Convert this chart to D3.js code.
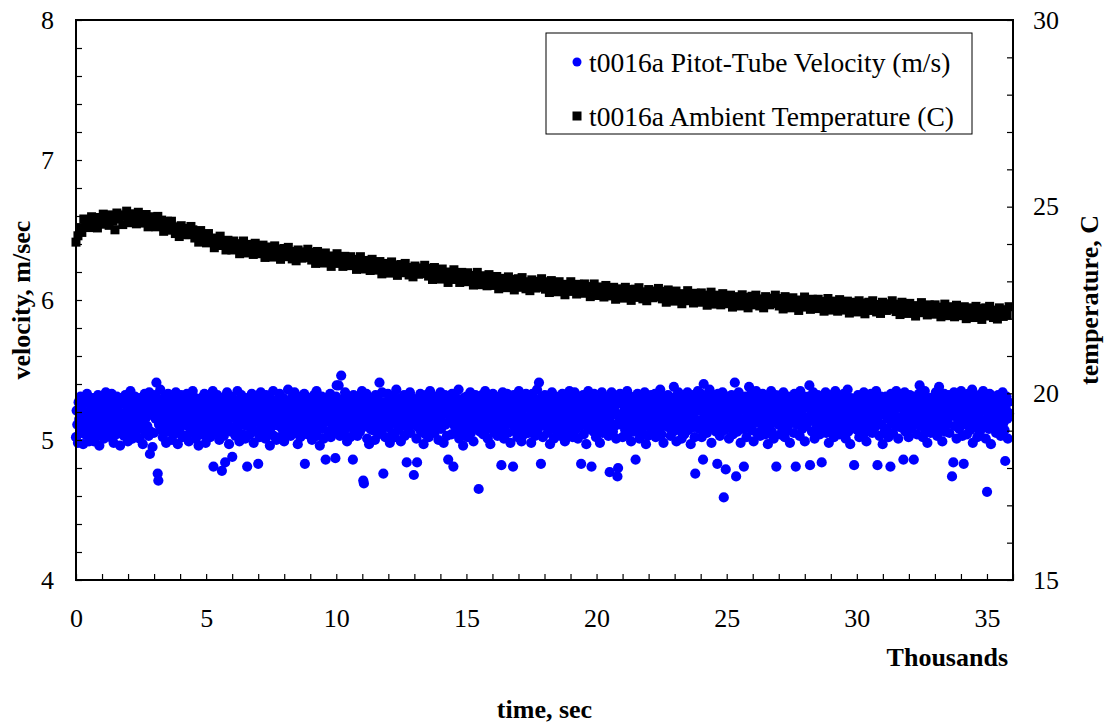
<!DOCTYPE html>
<html lang="en">
<head>
    <meta charset="UTF-8">
    <title>t0016a velocity and temperature</title>
    <script src="https://d3js.org/d3.v7.min.js"></script>
    <style>
        body { margin: 0; background: #fff; }
        svg text { font-family: "Liberation Serif", "Times New Roman", serif; fill: #000; }
        .title { font-weight: bold; font-size: 26px; }
    </style>
</head>
<body>
<div id="chart"></div>
<script>
    // time axis (thousands of seconds) and tick labels
    const timeEnd = 35.85;
    const xTickLabels = [0, 5, 10, 15, 20, 25, 30, 35];
    const velTickLabels = [4, 5, 6, 7, 8];
    const tempTickLabels = [15, 20, 25, 30];
    const seriesNames = ["t0016a Pitot-Tube Velocity (m/s)", "t0016a Ambient Temperature (C)"];

    const velocity = [
        5.02, 5.21, 5.11, 4.98, 5.27, 5.15, 5.05, 5.31, 5.19, 5.08, 5.25, 4.97, 5.13, 5.29, 5.04, 5.20, 5.11, 5.33, 5.07, 5.17, 4.99, 5.26, 5.14, 5.02,
        5.24, 5.09, 5.30, 5.16, 4.99, 5.21, 5.06, 5.27, 5.12, 5.03, 5.32, 5.18, 4.96, 5.23, 5.10, 5.29, 5.05, 5.15, 5.26, 5.01, 5.20, 5.11, 5.34, 5.08,
        5.18, 5.06, 5.29, 5.12, 5.24, 5.02, 5.21, 5.33, 5.09, 5.15, 4.98, 5.27, 5.11, 5.22, 5.04, 5.31, 5.17, 5.08, 5.25, 5.13, 4.96, 5.30, 5.19, 5.07,
        5.10, 5.26, 5.03, 5.19, 5.32, 5.14, 5.07, 5.23, 4.99, 5.28, 5.16, 5.05, 5.35, 5.12, 5.20, 5.01, 5.27, 5.09, 5.17, 5.31, 5.04, 5.22, 5.13, 5.26,
        5.24, 5.13, 5.01, 5.30, 5.17, 5.08, 5.26, 4.97, 5.20, 5.11, 5.33, 5.05, 5.16, 5.28, 5.10, 5.22, 5.03, 5.34, 4.90, 5.06, 5.25, 5.18, 4.95, 5.29,
        5.05, 5.21, 5.32, 5.15, 5.41, 5.27, 4.76, 4.71, 5.11, 5.19, 5.36, 5.07, 5.23, 5.14, 5.02, 5.30, 5.17, 5.09, 5.25, 4.98, 5.20, 5.12, 5.33, 5.06,
        5.14, 5.28, 5.08, 5.22, 5.00, 5.31, 5.17, 5.04, 5.25, 5.12, 5.34, 5.09, 5.19, 4.97, 5.27, 5.15, 5.06, 5.23, 5.32, 5.11, 5.02, 5.20, 5.29, 5.13,
        5.26, 5.03, 5.18, 5.33, 5.10, 5.22, 4.99, 5.29, 5.14, 5.07, 5.24, 5.16, 5.35, 5.05, 5.21, 5.12, 5.30, 5.01, 5.19, 5.27, 5.09, 4.96, 5.23, 5.15,
        5.08, 5.30, 5.20, 5.04, 5.25, 5.13, 5.33, 5.10, 4.98, 5.22, 5.17, 5.28, 5.06, 5.15, 5.31, 5.02, 5.24, 5.11, 5.19, 5.35, 4.81, 5.26, 5.14, 5.05,
        5.21, 5.12, 5.32, 5.07, 5.27, 5.00, 5.18, 5.24, 5.10, 4.78, 5.30, 5.15, 5.03, 5.26, 4.84, 5.20, 5.09, 5.34, 5.13, 5.22, 4.97, 5.29, 5.16, 5.06,
        5.31, 4.88, 5.17, 5.25, 5.09, 5.22, 5.03, 5.28, 5.14, 5.35, 5.06, 5.19, 4.99, 5.24, 5.11, 5.32, 5.16, 5.04, 5.27, 5.13, 5.21, 5.01, 5.30, 5.10,
        4.81, 5.20, 5.29, 5.12, 5.04, 5.26, 5.17, 5.33, 5.08, 5.23, 4.98, 5.15, 5.31, 5.06, 5.21, 5.13, 5.27, 4.83, 5.18, 5.02, 5.25, 5.34, 5.11, 5.22,
        5.07, 5.29, 5.16, 5.23, 5.01, 5.32, 5.12, 5.19, 5.05, 5.26, 5.14, 4.96, 5.30, 5.09, 5.22, 5.17, 5.35, 5.03, 5.24, 5.11, 5.28, 5.00, 5.18, 5.13,
        5.25, 5.10, 5.33, 5.02, 5.19, 5.27, 5.08, 5.15, 5.30, 4.99, 5.22, 5.12, 5.05, 5.28, 5.17, 5.36, 5.09, 5.21, 5.14, 5.03, 5.26, 5.18, 5.31, 5.06,
        5.16, 5.34, 5.05, 5.22, 5.11, 5.29, 4.97, 5.20, 5.13, 5.26, 5.02, 5.31, 5.18, 5.08, 5.24, 5.15, 5.33, 4.83, 5.27, 5.10, 5.19, 5.04, 5.23, 5.30,
        5.09, 5.21, 5.28, 5.14, 5.00, 5.25, 5.17, 5.32, 5.06, 5.23, 5.11, 5.35, 5.03, 5.19, 5.29, 5.12, 4.96, 5.26, 5.15, 5.31, 5.08, 5.22, 5.01, 5.18,
        5.27, 4.86, 5.13, 5.30, 5.20, 5.06, 5.24, 5.16, 5.33, 5.02, 5.19, 5.11, 5.28, 5.05, 5.22, 5.14, 4.87, 5.31, 5.39, 5.09, 5.25, 5.39, 5.17, 5.03,
        5.21, 5.46, 5.12, 5.29, 5.04, 5.23, 5.15, 5.34, 5.08, 5.26, 4.99, 5.18, 5.31, 5.10, 5.20, 5.02, 5.27, 5.13, 5.24, 4.86, 5.32, 5.07, 5.19, 5.28,
        5.11, 5.25, 5.03, 5.31, 5.17, 5.22, 5.06, 5.29, 5.14, 5.35, 5.09, 4.71, 4.69, 5.20, 5.27, 5.12, 5.33, 5.01, 5.23, 5.16, 4.97, 5.30, 5.08, 5.19,
        5.30, 5.07, 5.21, 5.14, 5.26, 5.00, 5.32, 5.18, 5.10, 5.24, 5.04, 5.28, 5.41, 5.15, 5.22, 5.06, 5.34, 5.12, 4.76, 5.27, 5.19, 5.02, 5.25, 5.11,
        5.16, 5.33, 5.09, 5.23, 4.98, 5.28, 5.13, 5.20, 5.05, 5.31, 5.17, 5.25, 5.02, 5.22, 5.36, 5.11, 5.27, 5.07, 5.19, 5.14, 5.30, 4.99, 5.24, 5.10,
        5.26, 5.12, 5.32, 5.03, 5.20, 5.15, 4.84, 5.29, 5.08, 5.23, 5.17, 5.34, 5.05, 5.25, 5.11, 5.30, 5.19, 4.75, 5.21, 5.14, 5.28, 5.01, 4.84, 5.24,
        5.09, 5.27, 5.18, 5.33, 5.06, 5.22, 5.13, 5.30, 4.97, 5.25, 5.15, 5.04, 5.32, 5.19, 5.10, 5.26, 5.02, 5.21, 5.35, 5.12, 5.24, 5.07, 5.29, 5.16,
        5.20, 5.05, 5.31, 5.14, 5.26, 5.10, 5.23, 5.00, 5.28, 5.17, 5.34, 5.08, 5.21, 5.13, 5.27, 4.98, 5.19, 5.32, 5.11, 5.25, 5.03, 5.30, 4.86, 5.18,
        5.29, 5.13, 5.22, 5.04, 5.33, 5.17, 4.81, 5.25, 5.10, 5.31, 5.19, 5.07, 5.27, 5.15, 5.36, 5.01, 5.23, 5.12, 5.28, 5.06, 5.20, 4.96, 5.30, 5.14,
        5.08, 5.24, 5.31, 5.16, 5.02, 5.27, 5.19, 5.11, 5.34, 5.05, 5.22, 5.29, 5.13, 4.99, 5.26, 5.18, 5.32, 5.09, 5.23, 5.15, 5.30, 4.65, 5.21, 5.06,
        5.25, 5.10, 5.32, 5.19, 5.04, 5.28, 5.14, 5.35, 5.07, 5.22, 5.16, 5.01, 5.30, 5.12, 5.24, 4.97, 5.20, 5.27, 5.09, 5.33, 5.17, 5.05, 5.26, 5.13,
        5.18, 5.29, 5.03, 5.23, 5.12, 5.31, 5.07, 5.26, 4.82, 5.20, 5.34, 5.15, 5.01, 5.28, 5.10, 5.22, 5.17, 5.33, 5.05, 5.25, 5.14, 5.30, 4.98, 5.21,
        5.27, 5.11, 4.81, 5.32, 5.19, 5.06, 5.24, 5.14, 5.29, 5.02, 5.21, 5.35, 5.09, 5.17, 5.26, 4.99, 5.31, 5.13, 5.22, 5.04, 5.28, 5.16, 5.33, 5.08,
        5.15, 5.30, 5.05, 5.23, 5.12, 5.27, 4.98, 5.20, 5.33, 5.09, 5.25, 5.17, 5.03, 5.29, 5.14, 5.36, 5.07, 5.22, 5.41, 5.11, 5.26, 4.83, 5.19, 5.31,
        5.02, 5.24, 5.16, 5.32, 5.10, 5.27, 5.19, 5.05, 5.30, 5.13, 5.22, 4.97, 5.28, 5.15, 5.34, 5.08, 5.21, 5.01, 5.25, 5.11, 5.31, 5.18, 5.06, 5.23,
        5.29, 5.12, 5.20, 5.03, 5.26, 5.15, 5.33, 5.08, 5.23, 5.17, 4.99, 5.30, 5.11, 5.24, 5.05, 5.27, 5.19, 5.35, 5.09, 5.21, 5.14, 5.32, 5.02, 5.25,
        5.17, 5.34, 5.07, 5.22, 5.13, 5.28, 5.01, 5.25, 5.18, 5.31, 5.10, 4.83, 5.26, 5.15, 5.32, 5.04, 5.21, 5.12, 5.29, 4.97, 5.23, 5.16, 5.35, 5.08,
        5.22, 5.10, 5.30, 4.81, 5.19, 5.26, 5.06, 5.33, 5.14, 5.24, 5.02, 5.28, 5.17, 5.09, 5.31, 5.20, 4.98, 5.25, 5.12, 5.34, 5.05, 5.27, 5.16, 5.21,
        5.31, 5.08, 5.24, 5.15, 5.29, 5.03, 5.20, 4.77, 5.27, 5.12, 5.34, 5.18, 5.06, 5.23, 5.30, 5.10, 5.25, 5.01, 5.19, 4.74, 4.80, 5.28, 5.14, 5.33,
        5.11, 5.26, 5.18, 5.02, 5.32, 5.14, 5.23, 5.07, 5.29, 5.16, 5.35, 5.04, 5.21, 5.27, 5.09, 5.31, 4.99, 5.19, 5.13, 5.25, 5.06, 5.30, 5.17, 4.86,
        5.28, 5.15, 5.33, 5.08, 5.22, 5.01, 5.26, 5.12, 5.19, 5.31, 5.05, 5.24, 5.17, 5.34, 5.10, 4.97, 5.28, 5.20, 5.03, 5.29, 5.14, 5.23, 5.09, 5.32,
        5.18, 5.05, 5.27, 5.21, 5.11, 5.33, 5.02, 5.24, 5.16, 5.30, 5.08, 5.26, 5.13, 5.36, 5.19, 5.04, 5.22, 5.29, 4.98, 5.15, 5.31, 5.10, 5.25, 5.17,
        5.24, 5.32, 5.09, 5.17, 5.29, 5.03, 5.21, 5.14, 5.27, 5.06, 5.38, 5.19, 5.11, 5.31, 4.99, 5.25, 5.16, 5.34, 5.07, 5.22, 5.13, 5.28, 5.01, 5.20,
        5.15, 5.27, 5.04, 5.31, 5.19, 5.10, 5.25, 5.34, 5.07, 5.22, 5.13, 5.29, 4.97, 5.18, 5.32, 5.09, 5.26, 5.16, 5.02, 4.76, 5.23, 5.30, 5.12, 5.35,
        5.21, 5.08, 5.29, 5.14, 5.33, 5.02, 5.24, 4.86, 5.40, 5.17, 5.27, 5.11, 5.31, 5.05, 5.20, 5.28, 5.13, 5.36, 5.09, 5.23, 4.98, 5.26, 5.16, 5.32,
        5.12, 5.30, 5.19, 5.06, 5.25, 4.83, 5.33, 5.15, 5.22, 5.03, 5.28, 5.17, 5.10, 5.34, 5.24, 4.59, 5.07, 5.29, 4.79, 5.18, 5.31, 5.13, 5.26, 5.01,
        5.20, 5.27, 5.09, 5.32, 5.16, 5.04, 5.23, 5.13, 5.41, 5.29, 4.74, 5.19, 5.06, 5.25, 5.34, 5.11, 5.21, 4.98, 5.30, 5.15, 5.26, 5.08, 4.81, 5.22,
        5.31, 5.14, 5.02, 5.24, 5.18, 5.28, 5.38, 5.10, 5.21, 5.33, 5.07, 5.26, 5.16, 4.99, 5.29, 5.12, 5.23, 5.35, 5.05, 5.19, 5.30, 5.13, 5.25, 5.03,
        5.17, 5.26, 5.08, 5.33, 5.21, 5.12, 5.29, 5.04, 5.24, 5.15, 5.31, 4.97, 5.22, 5.10, 5.27, 5.19, 5.35, 5.06, 5.28, 5.14, 5.01, 5.25, 5.18, 5.32,
        4.81, 5.23, 5.30, 5.11, 5.27, 5.16, 5.04, 5.32, 5.20, 5.09, 5.25, 5.34, 5.13, 5.02, 5.28, 5.18, 5.22, 5.07, 5.31, 5.15, 5.26, 4.98, 5.21, 5.12,
        5.29, 5.14, 5.22, 5.05, 5.33, 5.19, 4.81, 5.26, 5.11, 5.30, 5.17, 5.24, 5.03, 5.35, 5.13, 5.21, 5.08, 5.28, 5.16, 5.31, 4.99, 5.23, 5.10, 5.27,
        5.12, 5.25, 5.31, 5.39, 4.82, 5.18, 5.27, 5.06, 5.22, 5.34, 5.14, 5.01, 5.29, 5.17, 5.09, 5.24, 5.32, 5.11, 5.20, 5.04, 5.26, 5.15, 4.84, 5.30,
        5.23, 5.10, 5.28, 5.16, 5.34, 5.05, 5.21, 5.30, 5.13, 4.98, 5.26, 5.18, 5.08, 5.32, 5.24, 5.11, 5.29, 5.02, 5.19, 5.35, 5.14, 5.27, 5.07, 5.22,
        5.31, 5.17, 5.04, 5.25, 5.12, 5.29, 5.20, 5.09, 5.33, 5.15, 5.23, 5.01, 5.27, 5.18, 5.36, 5.06, 5.21, 5.13, 4.97, 5.30, 5.24, 5.10, 5.28, 5.16,
        4.82, 5.22, 5.29, 5.13, 5.26, 5.07, 5.32, 5.18, 5.02, 5.24, 5.15, 5.30, 5.10, 5.27, 5.20, 5.34, 5.05, 5.19, 5.25, 4.99, 5.31, 5.14, 5.22, 5.08,
        5.27, 5.12, 5.33, 5.19, 5.05, 5.24, 5.16, 5.30, 5.09, 5.22, 5.35, 5.13, 4.82, 5.28, 5.17, 5.03, 5.25, 5.31, 5.11, 5.21, 4.97, 5.29, 5.18, 5.06,
        5.20, 5.31, 5.08, 5.26, 5.15, 5.02, 5.28, 5.19, 4.81, 5.33, 5.12, 5.24, 5.05, 5.29, 5.17, 5.22, 5.10, 5.35, 5.14, 5.27, 5.01, 5.23, 5.32, 5.16,
        5.09, 5.25, 5.30, 5.14, 4.86, 5.21, 5.34, 5.06, 5.27, 5.18, 5.11, 5.29, 5.02, 5.23, 5.32, 5.15, 5.26, 5.08, 5.19, 5.31, 4.86, 5.24, 5.13, 5.28,
        5.22, 5.04, 5.29, 5.16, 5.33, 5.39, 5.10, 5.25, 5.19, 5.31, 5.02, 5.27, 5.14, 5.35, 5.07, 5.21, 5.28, 4.98, 5.24, 5.12, 5.30, 5.17, 5.05, 5.26,
        5.30, 5.15, 5.23, 5.08, 5.28, 5.12, 5.34, 5.19, 5.03, 5.26, 5.16, 5.38, 5.21, 5.09, 5.31, 5.14, 4.99, 5.25, 5.18, 5.33, 5.06, 5.27, 5.11, 5.22,
        5.13, 5.27, 5.32, 5.05, 5.21, 5.17, 5.29, 4.74, 5.24, 4.84, 5.34, 5.10, 5.26, 5.19, 5.01, 5.31, 5.15, 5.23, 5.08, 5.28, 5.20, 5.35, 5.12, 5.03,
        5.25, 4.83, 5.18, 5.30, 5.11, 5.27, 5.04, 5.22, 5.33, 5.16, 5.29, 5.07, 5.20, 5.13, 5.36, 4.98, 5.26, 5.19, 5.31, 5.09, 5.24, 5.15, 5.02, 5.28,
        5.17, 5.32, 5.06, 5.24, 5.29, 5.12, 5.21, 5.35, 5.09, 5.27, 5.14, 5.01, 5.30, 4.63, 5.19, 5.25, 5.08, 5.33, 5.16, 4.97, 5.28, 5.22, 5.11, 5.31,
        5.23, 5.14, 5.30, 5.05, 5.26, 5.18, 5.32, 5.10, 5.21, 5.28, 5.03, 5.25, 5.16, 5.34, 5.12, 5.29, 5.07, 4.85, 5.22, 5.31, 5.15, 5.01, 5.27, 5.19
    ];

    const temperature = [
        24.05, 24.22, 24.44, 24.31, 24.67, 24.49, 24.62, 24.44, 24.73, 24.54, 24.64, 24.43, 24.71, 24.53, 24.80, 24.62, 24.70, 24.50, 24.78, 24.61,
        24.38, 24.83, 24.67, 24.78, 24.52, 24.75, 24.88, 24.63, 24.57, 24.81, 24.71, 24.54, 24.85, 24.64, 24.74, 24.56, 24.79, 24.46, 24.67, 24.73,
        24.67, 24.46, 24.74, 24.50, 24.64, 24.34, 24.52, 24.61, 24.37, 24.61, 24.39, 24.28, 24.46, 24.20, 24.49, 24.33, 24.25, 24.42, 24.25, 24.47,
        24.38, 24.16, 24.25, 24.05, 24.36, 24.15, 24.24, 24.03, 24.28, 24.06, 24.14, 23.90, 24.16, 23.96, 24.21, 24.01, 24.06, 23.84, 24.10, 23.89,
        23.84, 24.08, 23.91, 24.01, 23.74, 23.96, 24.08, 23.83, 23.76, 23.99, 23.89, 23.72, 24.02, 23.82, 23.92, 23.74, 23.97, 23.64, 23.86, 23.92,
        23.85, 23.65, 23.95, 23.72, 23.87, 23.59, 23.78, 23.88, 23.66, 23.91, 23.70, 23.60, 23.80, 23.55, 23.84, 23.70, 23.62, 23.79, 23.64, 23.86,
        23.78, 23.57, 23.67, 23.48, 23.80, 23.60, 23.70, 23.49, 23.76, 23.55, 23.63, 23.40, 23.68, 23.48, 23.74, 23.55, 23.61, 23.40, 23.67, 23.47,
        23.42, 23.66, 23.49, 23.59, 23.32, 23.53, 23.66, 23.40, 23.33, 23.56, 23.46, 23.29, 23.59, 23.38, 23.49, 23.30, 23.53, 23.20, 23.42, 23.48,
        23.42, 23.22, 23.52, 23.29, 23.44, 23.16, 23.35, 23.45, 23.23, 23.48, 23.27, 23.17, 23.37, 23.12, 23.41, 23.27, 23.19, 23.36, 23.21, 23.43,
        23.35, 23.14, 23.24, 23.05, 23.37, 23.17, 23.27, 23.06, 23.33, 23.12, 23.20, 22.97, 23.25, 23.05, 23.31, 23.12, 23.18, 22.97, 23.24, 23.04,
        22.99, 23.23, 23.06, 23.16, 22.90, 23.11, 23.24, 22.98, 22.91, 23.15, 23.04, 22.88, 23.18, 22.97, 23.08, 22.89, 23.13, 22.80, 23.02, 23.08,
        23.02, 22.83, 23.12, 22.90, 23.05, 22.77, 22.96, 23.07, 22.84, 23.10, 22.89, 22.80, 22.99, 22.75, 23.04, 22.90, 22.82, 23.00, 22.84, 23.07,
        22.99, 22.79, 22.88, 22.70, 23.02, 22.82, 22.92, 22.72, 22.99, 22.78, 22.87, 22.64, 22.92, 22.73, 22.99, 22.80, 22.86, 22.66, 22.92, 22.73,
        22.68, 22.93, 22.75, 22.86, 22.59, 22.81, 22.93, 22.68, 22.62, 22.85, 22.75, 22.58, 22.89, 22.69, 22.79, 22.61, 22.84, 22.52, 22.73, 22.80,
        22.74, 22.55, 22.84, 22.62, 22.78, 22.49, 22.69, 22.79, 22.57, 22.83, 22.62, 22.53, 22.72, 22.48, 22.78, 22.63, 22.56, 22.74, 22.58, 22.81,
        22.73, 22.53, 22.63, 22.44, 22.77, 22.57, 22.67, 22.47, 22.74, 22.53, 22.62, 22.40, 22.67, 22.48, 22.75, 22.55, 22.62, 22.42, 22.68, 22.49,
        22.44, 22.69, 22.52, 22.63, 22.36, 22.58, 22.71, 22.46, 22.39, 22.63, 22.53, 22.37, 22.67, 22.47, 22.58, 22.40, 22.63, 22.31, 22.53, 22.59,
        22.53, 22.34, 22.64, 22.42, 22.57, 22.29, 22.49, 22.60, 22.37, 22.63, 22.43, 22.34, 22.53, 22.29, 22.59, 22.45, 22.37, 22.55, 22.40, 22.63,
        22.54, 22.34, 22.44, 22.26, 22.59, 22.38, 22.49, 22.29, 22.56, 22.36, 22.44, 22.22, 22.50, 22.31, 22.58, 22.38, 22.45, 22.25, 22.52, 22.33,
        22.27, 22.52, 22.35, 22.46, 22.20, 22.41, 22.54, 22.29, 22.23, 22.47, 22.36, 22.20, 22.51, 22.31, 22.42, 22.23, 22.47, 22.15, 22.37, 22.44,
        22.37, 22.18, 22.48, 22.26, 22.42, 22.13, 22.33, 22.44, 22.22, 22.48, 22.27, 22.18, 22.38, 22.14, 22.44, 22.29, 22.22, 22.40, 22.25, 22.48,
        22.39, 22.19, 22.29, 22.11, 22.44, 22.23, 22.34, 22.14, 22.41, 22.21, 22.29, 22.07, 22.35, 22.16, 22.43, 22.23, 22.30, 22.10, 22.37, 22.18,
        22.12, 22.37, 22.20, 22.31, 22.05, 22.26, 22.39, 22.14, 22.08, 22.32, 22.21, 22.05, 22.36, 22.16, 22.27, 22.08, 22.32, 22.00, 22.22, 22.29,
        22.22, 22.03, 22.33, 22.11, 22.27, 21.98, 22.18, 22.29, 22.07, 22.33, 22.12, 22.03, 22.23, 21.99, 22.29, 22.13, 22.06, 22.24, 22.09, 22.32
    ];

    const W = 1104, H = 725;
    const plot = { left: 76, right: 1013, top: 20, bottom: 580 };

    const svg = d3.select("#chart").append("svg")
        .attr("width", W)
        .attr("height", H);

    const x = d3.scaleLinear().domain([0, 36]).range([plot.left, plot.right]);
    const yVel = d3.scaleLinear().domain([4, 8]).range([plot.bottom, plot.top]);
    const yTemp = d3.scaleLinear().domain([15, 30]).range([plot.bottom, plot.top]);

    const velPts = velocity.map((v, i) => ({ t: i * timeEnd / (velocity.length - 1), v }));
    const tempPts = temperature.map((v, i) => ({ t: i * timeEnd / (temperature.length - 1), v }));

    // series
    svg.append("g").selectAll("circle")
        .data(velPts)
        .enter()
        .append("circle")
        .attr("cx", d => x(d.t))
        .attr("cy", d => yVel(d.v))
        .attr("r", 5.1)
        .attr("fill", "#0000ff");

    const sq = 9;
    svg.append("g").selectAll("rect")
        .data(tempPts)
        .enter()
        .append("rect")
        .attr("x", d => x(d.t) - sq / 2)
        .attr("y", d => yTemp(d.v) - sq / 2)
        .attr("width", sq)
        .attr("height", sq)
        .attr("fill", "#000");

    // axes: ticks point into the plot
    const styleAxis = g => {
        g.select(".domain").remove();
        g.selectAll(".tick line").attr("stroke", "#000").attr("stroke-width", 1.2);
        g.selectAll("text")
            .attr("font-family", "Liberation Serif, serif")
            .attr("font-size", 26)
            .attr("fill", "#000");
    };

    svg.append("g")
        .attr("transform", `translate(0,${plot.bottom})`)
        .call(d3.axisBottom(x)
            .tickValues(d3.range(0, 37, 1))
            .tickSize(-6)
            .tickPadding(29)
            .tickFormat(d => xTickLabels.includes(d) ? d : ""))
        .call(styleAxis);

    svg.append("g")
        .attr("transform", `translate(${plot.left},0)`)
        .call(d3.axisLeft(yVel)
            .tickValues(d3.range(4, 8.01, 0.2).map(d => +d.toFixed(1)))
            .tickSize(-6)
            .tickPadding(22)
            .tickFormat(d => velTickLabels.includes(d) ? d : ""))
        .call(styleAxis);

    svg.append("g")
        .attr("transform", `translate(${plot.right},0)`)
        .call(d3.axisRight(yTemp)
            .tickValues(d3.range(15, 31, 1))
            .tickSize(-6)
            .tickPadding(20)
            .tickFormat(d => tempTickLabels.includes(d) ? d : ""))
        .call(styleAxis);

    // plot frame
    svg.append("rect")
        .attr("x", plot.left)
        .attr("y", plot.top)
        .attr("width", plot.right - plot.left)
        .attr("height", plot.bottom - plot.top)
        .attr("fill", "none")
        .attr("stroke", "#000")
        .attr("stroke-width", 2);

    // titles
    svg.append("text")
        .attr("class", "title")
        .attr("transform", `translate(30,${(plot.top + plot.bottom) / 2}) rotate(-90)`)
        .attr("text-anchor", "middle")
        .text("velocity, m/sec");

    svg.append("text")
        .attr("class", "title")
        .attr("transform", `translate(1098,${(plot.top + plot.bottom) / 2}) rotate(-90)`)
        .attr("text-anchor", "middle")
        .text("temperature, C");

    svg.append("text")
        .attr("class", "title")
        .attr("x", 1008)
        .attr("y", 666)
        .attr("text-anchor", "end")
        .text("Thousands");

    svg.append("text")
        .attr("class", "title")
        .attr("x", (plot.left + plot.right) / 2)
        .attr("y", 718)
        .attr("text-anchor", "middle")
        .text("time, sec");

    // legend
    const legend = svg.append("g");
    legend.append("rect")
        .attr("x", 546).attr("y", 33)
        .attr("width", 426).attr("height", 101)
        .attr("fill", "#fff")
        .attr("stroke", "#000")
        .attr("stroke-width", 1);

    legend.append("circle")
        .attr("cx", 577).attr("cy", 62).attr("r", 4.5)
        .attr("fill", "#0000ff");
    legend.append("rect")
        .attr("x", 577 - 4.5).attr("y", 116 - 4.5)
        .attr("width", 9).attr("height", 9)
        .attr("fill", "#000");

    legend.selectAll("text.entry")
        .data(seriesNames)
        .enter()
        .append("text")
        .attr("class", "entry")
        .attr("x", 589)
        .attr("y", (d, i) => i === 0 ? 62 : 116)
        .attr("dy", "0.35em")
        .attr("font-size", 27.5)
        .text(d => d);
</script>
</body>
</html>
